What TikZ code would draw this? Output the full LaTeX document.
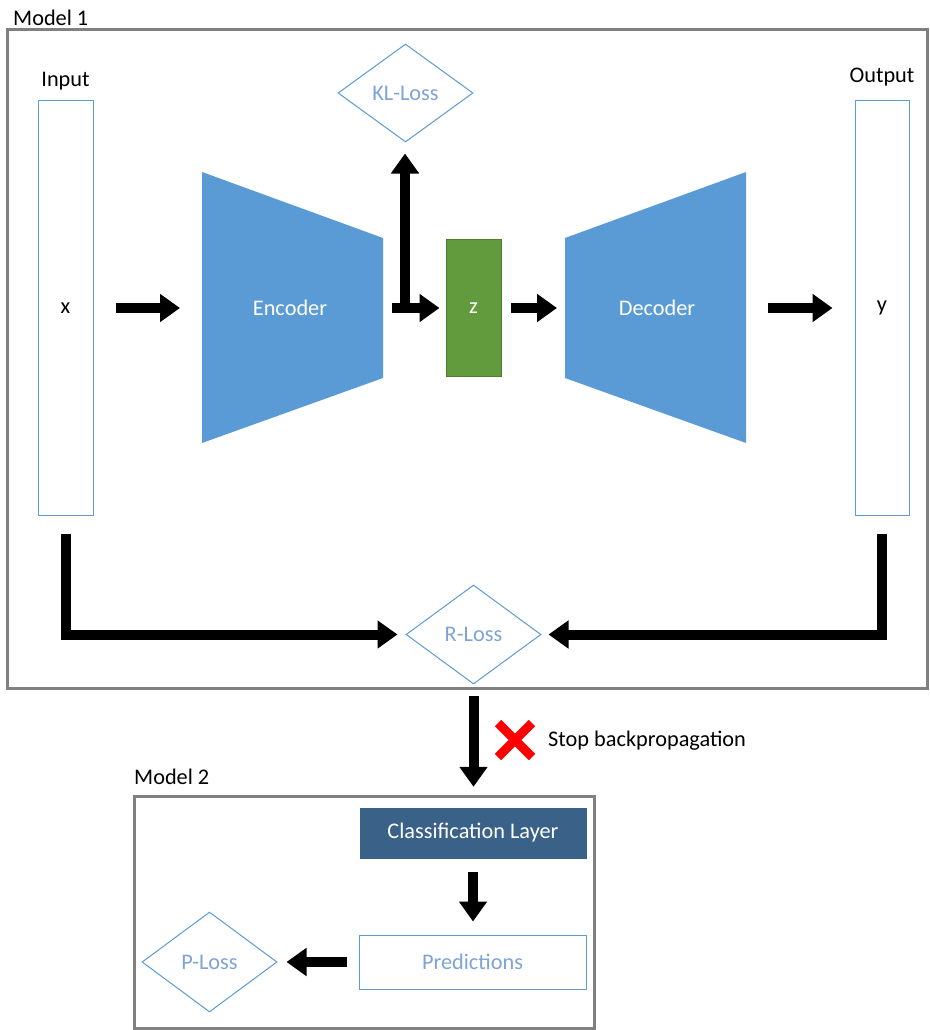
\documentclass[tikz,border=0pt]{standalone}
\usepackage{fontspec}
\setmainfont{Carlito}
\usetikzlibrary{arrows.meta,shapes.geometric,calc}
\definecolor{frameg}{HTML}{808080}
\definecolor{lblue}{HTML}{5B9BD5}
\definecolor{tblue}{HTML}{7FA3D6}
\definecolor{encb}{HTML}{5B9BD5}
\definecolor{zgreen}{HTML}{629B3D}
\definecolor{zborder}{HTML}{4E7D30}
\definecolor{clsb}{HTML}{3A6187}
\definecolor{xred}{HTML}{FF0000}
\tikzset{
  every node/.style={font=\fontsize{22.3}{25}\selectfont, inner sep=0pt},
  frame/.style={draw=frameg, line width=3pt},
  iobox/.style={draw=lblue, line width=1pt, fill=white},
  lossd/.style={draw=lblue, line width=1pt, diamond, text=tblue, aspect=1.35},
  bigarrow/.style={line width=10pt, -{Triangle[length=20pt,width=27pt]}},
  plainlab/.style={text=black},
}
\begin{document}
\begin{tikzpicture}[x=1pt,y=-1pt]
\useasboundingbox (0,0) rectangle (929,1030);
\fill[white] (0,0) rectangle (929,1030);
% Model 1 frame
\draw[frame] (7,30) rectangle (927.5,688);
\node[plainlab, anchor=west] (m1) at (13,18) {Model 1};
% Input / Output
\node[plainlab] (inl) at (65.5,81) {Input};
\node[iobox, minimum width=55pt, minimum height=414pt] (inp) at (65.5,308) {x};
\node[plainlab] (outl) at (882,77) {Output};
\node[iobox, minimum width=54pt, minimum height=414pt] (out) at (882,308) {y};
% Encoder
\fill[encb] (202,172) -- (383,238) -- (383,378) -- (202,443) -- cycle;
\node[text=white, minimum width=181pt, minimum height=271pt] (enc) at (290,308) {Encoder};
% Decoder
\fill[encb] (565,238) -- (746,172) -- (746,443) -- (565,378) -- cycle;
\node[text=white, minimum width=181pt, minimum height=271pt] (dec) at (657,308) {Decoder};
% z
\node[draw=zborder, line width=1pt, fill=zgreen, text=white, minimum width=55pt, minimum height=137pt] (z) at (473.5,308) {z};
% KL loss
\node[lossd, minimum width=135pt, minimum height=98pt] (kl) at (405.5,93) {KL-Loss};
% R loss
\node[lossd, minimum width=135pt, minimum height=99pt] (rl) at (473.5,634.5) {R-Loss};
% arrows top row
\coordinate (encE) at (383,308);
\coordinate (encW) at (202,308);
\coordinate (decE) at (746,308);
\coordinate (decW) at (565,308);
\draw[bigarrow, shorten <=22pt, shorten >=22pt] (inp.east) -- (encW);
\coordinate (klbase) at (405,313);
\draw[bigarrow, shorten >=11pt] (klbase) -- (klbase |- kl.south);
\draw[bigarrow, shorten <=9pt, shorten >=6pt] (encE) -- (z.west);
\draw[bigarrow, shorten <=9pt, shorten >=8pt] (z.east) -- (decW);
\draw[bigarrow, shorten <=22pt, shorten >=22pt] (decE) -- (out.west);
% R-loss arrows
\draw[bigarrow, shorten <=18pt, shorten >=8pt] (inp.south) |- (rl.west);
\draw[bigarrow, shorten <=18pt, shorten >=7pt] (out.south) |- (rl.east);
% Model 2
\draw[frame] (134,796) rectangle (594,1028);
\node[plainlab, anchor=west] (m2) at (134,777) {Model 2};
\node[fill=clsb, draw=clsb, text=white, minimum width=226pt, minimum height=50pt] (cls) at (473,833) {Classification Layer};
\node[iobox, text=tblue, minimum width=227pt, minimum height=54pt] (pred) at (472.5,962) {Predictions};
\node[lossd, minimum width=135pt, minimum height=100pt] (pl) at (209.5,962) {P-Loss};
% stop backprop arrow
\draw[bigarrow, shorten <=11pt, shorten >=21pt] (rl.south) -- (rl.south |- cls.north);
\coordinate (xc) at (515,740);
\draw[xred, line width=9pt] ($(xc)+(-17,-17)$) -- ($(xc)+(17,17)$);
\draw[xred, line width=9pt] ($(xc)+(-17,17)$) -- ($(xc)+(17,-17)$);
\node[plainlab, anchor=west] (stop) at (548,741) {Stop backpropagation};
% Model 2 arrows
\draw[bigarrow, shorten <=14pt, shorten >=13pt] (cls.south) -- (cls.south |- pred.north);
\draw[bigarrow, shorten <=12pt, shorten >=9pt] (pred.west) -- (pl.east);
\end{tikzpicture}
\end{document}
